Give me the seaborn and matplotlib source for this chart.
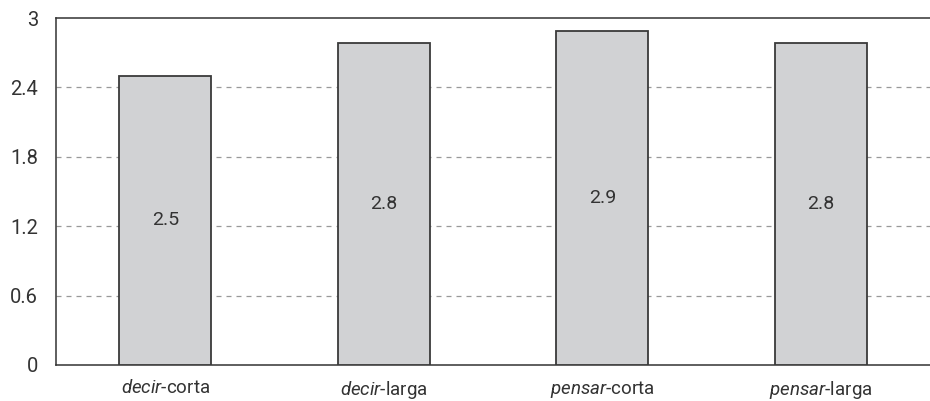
import matplotlib
matplotlib.use("Agg")
import matplotlib.pyplot as plt
import seaborn as sns
import pandas as pd
from matplotlib.ticker import FixedLocator

categories = ["decir-corta", "decir-larga", "pensar-corta", "pensar-larga"]
values = [2.5, 2.78, 2.89, 2.78]
ytick_values = [0, 0.6, 1.2, 1.8, 2.4, 3]
ytick_labels = ["0", "0.6", "1.2", "1.8", "2.4", "3"]
xtick_labels = [r"$\mathit{decir}$-corta", r"$\mathit{decir}$-larga",
                r"$\mathit{pensar}$-corta", r"$\mathit{pensar}$-larga"]

sns.set_style("white")
plt.rcParams["font.family"] = ["Roboto", "DejaVu Sans"]
plt.rcParams["mathtext.fontset"] = "custom"
plt.rcParams["mathtext.it"] = "Roboto:italic"
plt.rcParams["mathtext.rm"] = "Roboto"

df = pd.DataFrame({"cat": categories, "val": values})

fig = plt.figure(figsize=(9.3, 4.01), dpi=100)
ax = fig.add_axes([56/930, 1 - 365/401, 874/930, (365 - 18)/401])

sns.barplot(data=df, x="cat", y="val", ax=ax, color="#d1d2d4", saturation=1,
            width=0.42, edgecolor="#3a3a3a", linewidth=1.3, zorder=3)

for c in ax.containers:
    ax.bar_label(c, labels=[f"{v:.1f}" for v in values], label_type="center",
                 fontsize=14, color="#333333")

ax.set_ylim(0, 3)
ax.set_xlim(-0.5, 3.5)
ax.set_yticks(ytick_values)
ax.set_yticklabels(ytick_labels, fontsize=14.5, color="#333333")
for y in ytick_values[1:-1]:
    ax.axhline(y, color="#999999", linestyle=(0, (4, 4)), linewidth=0.9, zorder=1)

ax.set_xticks(range(len(categories)))
ax.set_xticklabels(xtick_labels, fontsize=13.5, color="#333333")
ax.tick_params(axis="x", which="major", length=0, pad=10)
ax.xaxis.set_minor_locator(FixedLocator([-0.5, 0.5, 1.5, 2.5, 3.5]))
ax.tick_params(axis="x", which="minor", length=6, width=1.1, color="#333333", direction="out")
ax.tick_params(axis="y", length=5, width=1.0, color="#333333", direction="out", pad=8)

ax.set_xlabel("")
ax.set_ylabel("")
for s in ["left", "bottom", "top"]:
    ax.spines[s].set_visible(True)
    ax.spines[s].set_color("#333333")
    ax.spines[s].set_linewidth(1.1)
ax.spines["right"].set_visible(False)

fig.savefig("out.png", dpi=100)
